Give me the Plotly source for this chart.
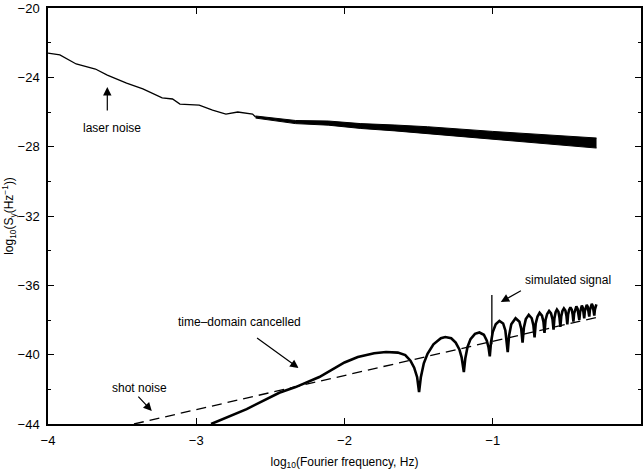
import plotly.graph_objects as go

# ---- data ----
laser_x = [-4.00, -3.92, -3.81, -3.68, -3.60, -3.47, -3.36, -3.23, -3.16, -3.11,
           -2.98, -2.89, -2.80, -2.72, -2.62, -2.60]
laser_y = [-22.60, -22.71, -23.23, -23.52, -23.87, -24.33, -24.67, -25.19, -25.25, -25.54,
           -25.60, -25.89, -26.12, -26.00, -26.12, -26.29]

band_x = [-2.60, -2.33, -2.11, -1.89, -1.66, -1.44, -1.00, -0.60, -0.30]
band_upper = [-26.23, -26.49, -26.52, -26.67, -26.75, -26.85, -27.12, -27.34, -27.50]
band_lower = [-26.35, -26.67, -26.76, -26.95, -27.09, -27.25, -27.58, -27.86, -28.08]

tdc_x = [-2.90, -2.66, -2.44, -2.33, -2.17, -2.09, -2.00, -1.91, -1.80, -1.72, -1.64, -1.59,
         -1.555, -1.53, -1.51, -1.497,
         -1.485, -1.465, -1.44, -1.40, -1.35, -1.32, -1.28, -1.25, -1.225, -1.21, -1.195,
         -1.185, -1.17, -1.15, -1.12, -1.09, -1.06, -1.04, -1.028, -1.02,
         -1.012, -1.00, -0.98, -0.955, -0.93, -0.915, -0.899,
         -0.89, -0.875, -0.846, -0.82, -0.808, -0.799,
         -0.79, -0.777, -0.757, -0.737, -0.726, -0.718,
         -0.71, -0.698, -0.684, -0.668, -0.658, -0.651,
         -0.644, -0.633, -0.62, -0.607, -0.597, -0.59,
         -0.584, -0.576, -0.567, -0.557, -0.55, -0.544,
         -0.538, -0.53, -0.52, -0.51, -0.503, -0.497,
         -0.492, -0.485, -0.476, -0.467, -0.461, -0.456,
         -0.451, -0.444, -0.436, -0.428, -0.421, -0.416,
         -0.411, -0.405, -0.399, -0.392, -0.387, -0.383,
         -0.379, -0.373, -0.366, -0.359, -0.353, -0.349,
         -0.345, -0.339, -0.332, -0.325, -0.319, -0.315,
         -0.311, -0.305, -0.301]
tdc_y = [-44.0, -43.14, -42.20, -41.87, -41.29, -40.89, -40.45, -40.14, -39.92, -39.85, -39.88, -40.02,
         -40.35, -40.75, -41.30, -42.16,
         -41.30, -40.50, -39.95, -39.40, -39.05, -38.98, -39.05, -39.30, -39.70, -40.15, -41.00,
         -40.20, -39.55, -39.10, -38.80, -38.72, -38.85, -39.20, -39.60, -40.10,
         -39.30, -38.70, -38.25, -38.05, -38.20, -38.60, -39.85,
         -38.90, -38.25, -37.90, -38.10, -38.50, -39.30,
         -38.45, -37.95, -37.70, -37.90, -38.30, -39.00,
         -38.20, -37.80, -37.58, -37.75, -38.10, -38.75,
         -38.00, -37.65, -37.48, -37.62, -37.95, -38.55,
         -37.90, -37.55, -37.40, -37.52, -37.85, -38.40,
         -37.80, -37.48, -37.33, -37.45, -37.75, -38.25,
         -37.70, -37.42, -37.27, -37.40, -37.68, -38.10,
         -37.62, -37.36, -37.22, -37.35, -37.62, -38.00,
         -37.55, -37.30, -37.17, -37.30, -37.55, -37.90,
         -37.50, -37.25, -37.12, -37.25, -37.50, -37.80,
         -37.45, -37.20, -37.07, -37.20, -37.45, -37.75,
         -37.40, -37.15, -37.10]

spike_x = [-1.006, -1.006]
spike_y = [-39.40, -36.56]

shot_x = [-3.42, -0.30]
shot_y = [-44.0, -37.85]

y_ticks = [-44, -40, -36, -32, -28, -24, -20]
x_ticks = [-4, -3, -2, -1, 0]

FONT = "Liberation Sans, Arial, sans-serif"

fig = go.Figure()
fig.add_trace(go.Scatter(x=band_x, y=band_upper, mode="lines",
                         line=dict(color="black", width=1), hoverinfo="skip"))
fig.add_trace(go.Scatter(x=band_x, y=band_lower, mode="lines", fill="tonexty",
                         fillcolor="black", line=dict(color="black", width=1), hoverinfo="skip"))
fig.add_trace(go.Scatter(x=laser_x, y=laser_y, mode="lines",
                         line=dict(color="black", width=1.3)))
fig.add_trace(go.Scatter(x=shot_x, y=shot_y, mode="lines",
                         line=dict(color="black", width=1.3, dash="10px,6px")))
fig.add_trace(go.Scatter(x=tdc_x, y=tdc_y, mode="lines",
                         line=dict(color="black", width=2.6)))
fig.add_trace(go.Scatter(x=spike_x, y=spike_y, mode="lines",
                         line=dict(color="black", width=1.3)))

def label(x, y, text):
    fig.add_annotation(x=x, y=y, text=text, showarrow=False,
                       font=dict(family=FONT, size=12, color="black"))

def arrow(x0, y0, x1, y1):
    fig.add_annotation(x=x1, y=y1, ax=x0, ay=y0, xref="x", yref="y", axref="x", ayref="y",
                       text="", showarrow=True, arrowhead=2, arrowsize=1.4,
                       arrowwidth=1.2, arrowcolor="black")

label(-3.57, -26.92, "laser noise")
arrow(-3.60, -26.0, -3.60, -24.56)
label(-3.38, -41.93, "shot noise")
arrow(-3.40, -42.33, -3.30, -43.25)
label(-2.705, -38.12, "time\u2013domain cancelled")
arrow(-2.60, -38.98, -2.31, -40.77)
label(-0.49, -35.70, "simulated signal")
arrow(-0.80, -36.27, -0.946, -36.96)

fig.update_layout(
    width=643, height=476,
    margin=dict(l=48, r=0, t=8, b=52),
    paper_bgcolor="white", plot_bgcolor="white",
    showlegend=False,
    font=dict(family=FONT, size=12, color="black"),
    xaxis=dict(range=[-4, 0], tickvals=x_ticks, ticks="inside", ticklen=6, tickwidth=1.2,
               tickcolor="black", showline=True, linecolor="black", linewidth=1.5,
               mirror="allticks", showgrid=False, zeroline=False,
               tickfont=dict(family=FONT, size=13), ticklabelstandoff=4,
               title=dict(text="log<sub>10</sub>(Fourier frequency, Hz)", standoff=10,
                          font=dict(family=FONT, size=12))),
    yaxis=dict(range=[-44, -20], tickvals=y_ticks, ticks="inside", ticklen=6, tickwidth=1.2,
               tickcolor="black", showline=True, linecolor="black", linewidth=1.5,
               mirror="allticks", showgrid=False, zeroline=False,
               minor=dict(dtick=2, ticks="inside", ticklen=3, tickcolor="black", tickwidth=1.2),
               tickfont=dict(family=FONT, size=13), ticklabelstandoff=4,
               title=dict(text="log<sub>10</sub>(S<sub>y</sub>(Hz<sup>\u22121</sup>))", standoff=0,
                          font=dict(family=FONT, size=12))),
)

fig.write_html(
    "out.html",
    config={"displayModeBar": False},
    post_script="document.body.style.margin='0px';"
                "document.body.style.overflow='hidden';"
                "document.documentElement.style.overflow='hidden';",
)
